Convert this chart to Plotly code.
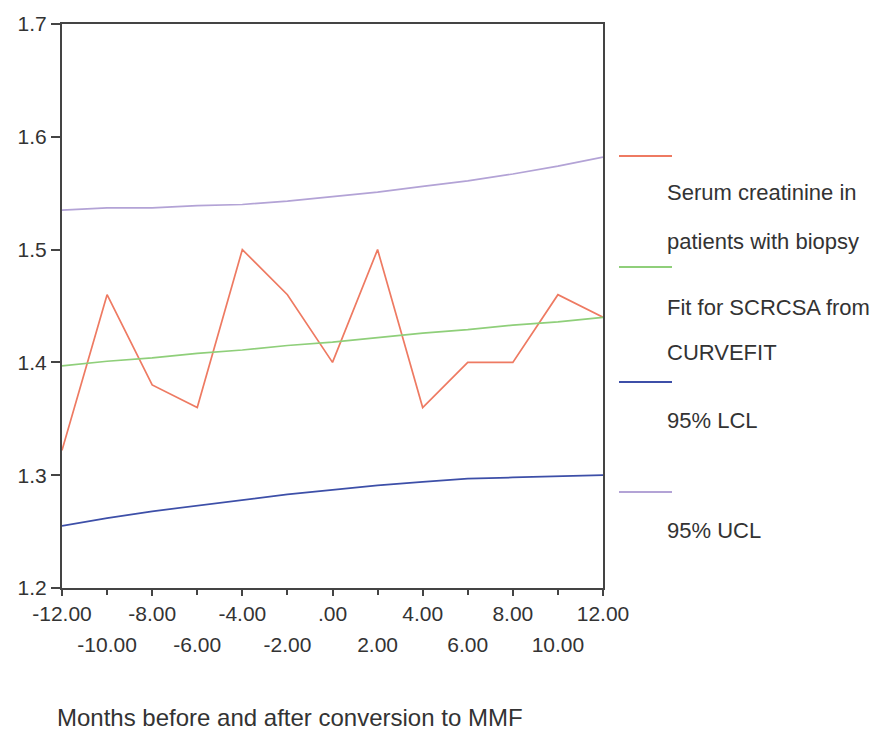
import plotly.graph_objects as go

months = [-12, -10, -8, -6, -4, -2, 0, 2, 4, 6, 8, 10, 12]
serum = [1.322, 1.46, 1.38, 1.36, 1.50, 1.46, 1.40, 1.50, 1.36, 1.40, 1.40, 1.46, 1.44]
fit = [1.397, 1.401, 1.404, 1.408, 1.411, 1.415, 1.418, 1.422, 1.426, 1.429, 1.433, 1.436, 1.440]
lcl = [1.255, 1.262, 1.268, 1.273, 1.278, 1.283, 1.287, 1.291, 1.294, 1.297, 1.298, 1.299, 1.300]
ucl = [1.535, 1.537, 1.537, 1.539, 1.540, 1.543, 1.547, 1.551, 1.556, 1.561, 1.567, 1.574, 1.582]

row1_ticks = [-12, -8, -4, 0, 4, 8, 12]
row1_text = ["-12.00", "-8.00", "-4.00", ".00", "4.00", "8.00", "12.00"]
row2_ticks = [-10, -6, -2, 2, 6, 10]
row2_text = ["-10.00", "-6.00", "-2.00", "2.00", "6.00", "10.00"]

y_ticks = [1.2, 1.3, 1.4, 1.5, 1.6, 1.7]

legend_labels = ["Serum creatinine in<br>patients with biopsy",
                 "Fit for SCRCSA from<br>CURVEFIT",
                 "95% LCL",
                 "95% UCL"]
colors = ["#ee7a62", "#8fcf7a", "#3d4fa8", "#b3a3d6"]

W, H = 882, 734
L, R, T, B = 62, 603, 24, 588

fig = go.Figure()
for yv, c, name in zip([serum, fit, lcl, ucl], colors, legend_labels):
    fig.add_trace(go.Scatter(x=months, y=yv, mode="lines",
                             line=dict(color=c, width=1.7),
                             name=name, showlegend=False, xaxis="x"))
# invisible trace for second tick row axis
fig.add_trace(go.Scatter(x=months, y=fit, mode="lines", line=dict(width=0),
                         xaxis="x2", showlegend=False, hoverinfo="skip", opacity=0))

font = "Liberation Sans, Arial, sans-serif"
axis_col = "#444444"
txt_col = "#333333"

fig.update_layout(
    width=W, height=H,
    margin=dict(l=L, r=W - R, t=T, b=H - B, pad=0),
    paper_bgcolor="white", plot_bgcolor="white",
    font=dict(family=font, color=txt_col, size=22),
    xaxis=dict(range=[-12, 12], tickvals=row1_ticks, ticktext=row1_text,
               showgrid=False, zeroline=False, showline=True, linecolor=axis_col,
               linewidth=2, mirror=True, ticks="outside", ticklen=6, tickwidth=2,
               tickcolor=axis_col, tickfont=dict(size=21, color=txt_col)),
    xaxis2=dict(range=[-12, 12], overlaying="x", side="bottom", anchor="y",
                tickvals=row2_ticks, ticktext=row2_text, showgrid=False,
                zeroline=False, showline=False, ticks="outside", ticklen=6,
                tickwidth=2, tickcolor=axis_col, ticklabelstandoff=32,
                tickfont=dict(size=21, color=txt_col)),
    yaxis=dict(range=[1.2, 1.7], tickvals=y_ticks, tickformat=".1f",
               showgrid=False, zeroline=False, showline=True, linecolor=axis_col,
               linewidth=2, mirror=True, ticks="outside", ticklen=9, tickwidth=2,
               tickcolor=axis_col, tickfont=dict(size=21, color=txt_col)),
)


def px_x(p):
    return (p - L) / (R - L)


def px_y(p):
    return (B - p) / (B - T)


# legend: line sample above label text
leg_line_y = [156, 267, 382, 492]
leg_text_y = [[193, 242], [307, 353], [420], [530]]
for c, ly, ty, lab in zip(colors, leg_line_y, leg_text_y, legend_labels):
    fig.add_shape(type="line", xref="paper", yref="paper",
                  x0=px_x(619), x1=px_x(672), y0=px_y(ly), y1=px_y(ly),
                  line=dict(color=c, width=2))
    for line_text, yy in zip(lab.split("<br>"), ty):
        fig.add_annotation(xref="paper", yref="paper", x=px_x(665), y=px_y(yy),
                           text=line_text, showarrow=False, xanchor="left",
                           yanchor="middle", font=dict(size=22, color=txt_col))

fig.add_annotation(xref="paper", yref="paper", x=px_x(290), y=px_y(717),
                   text="Months before and after conversion to MMF", showarrow=False,
                   xanchor="center", yanchor="middle",
                   font=dict(size=24, color=txt_col))

fig.write_html("out.html")
